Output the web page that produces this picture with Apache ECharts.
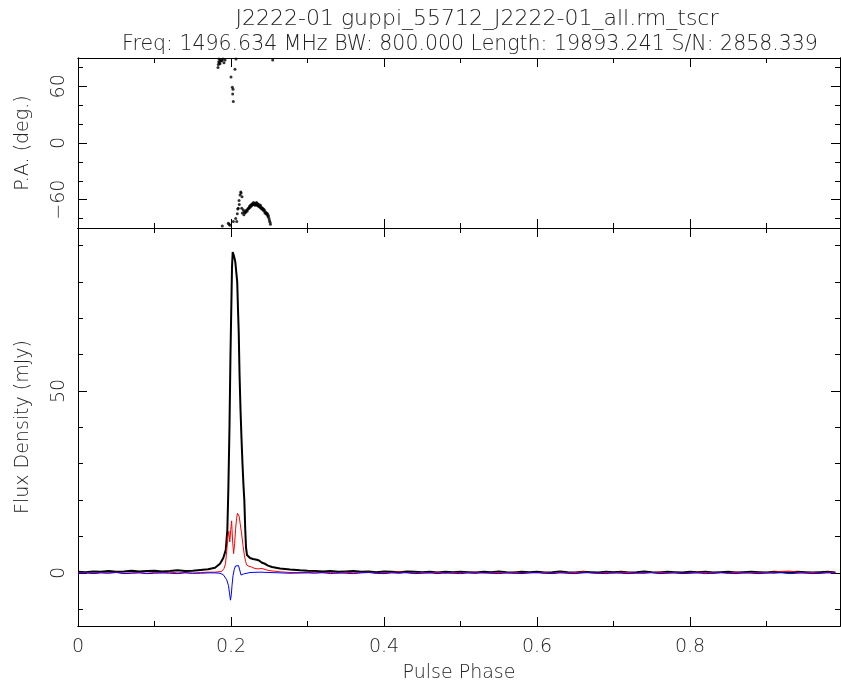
<!DOCTYPE html>
<html><head><meta charset="utf-8">
<script src="https://cdn.jsdelivr.net/npm/echarts@6/dist/echarts.min.js"></script>
<style>html,body{margin:0;padding:0;background:#fff}#c{width:841px;height:682px}</style>
</head><body><div id="c"></div>
<script>
// ---------- text ----------
const titleLine1 = 'J2222-01 guppi_55712_J2222-01_all.rm_tscr';
const titleLine2 = 'Freq: 1496.634 MHz BW: 800.000 Length: 19893.241 S/N: 2858.339';
const xName = 'Pulse Phase';
const paName = 'P.A. (deg.)';
const fluxName = 'Flux Density (mJy)';

// ---------- tick values ----------
const xMajor = [0, 0.2, 0.4, 0.6, 0.8];
const xMinor = [0.1, 0.3, 0.5, 0.7, 0.9];
const paMajor = [-60, 0, 60];
const paMinor = [-80, -40, -20, 20, 40, 80];
const fluxMajor = [0, 50];
const fluxMinor = [-10, 10, 20, 30, 40, 60, 70, 80, 90];

// ---------- off-pulse samples ----------
const offPhaseA = [0.00,0.01,0.02,0.03,0.04,0.05,0.06,0.07,0.08,0.09,0.10,0.11,0.12,0.13,0.14,0.15,0.16,0.17];
const offIA = [0.3,0.2,0.4,0.3,0.5,0.3,0.4,0.6,0.4,0.5,0.6,0.4,0.5,0.7,0.5,0.6,0.8,1.0];
const offLA = [0.0,0.1,-0.1,0.1,0.0,0.2,-0.1,0.0,0.1,-0.1,0.1,0.0,0.2,0.0,0.1,-0.1,0.1,0.2];
const offVA = [-0.1,0.0,-0.2,0.0,-0.1,0.1,-0.2,-0.1,0.0,-0.2,-0.1,0.0,-0.1,-0.2,0.0,-0.1,-0.1,0.0];

const offPhaseB = [0.30,0.31,0.32,0.33,0.34,0.35,0.36,0.37,0.38,0.39,0.40,0.41,0.42,0.43,0.44,0.45,0.46,0.47,0.48,0.49,
  0.50,0.51,0.52,0.53,0.54,0.55,0.56,0.57,0.58,0.59,0.60,0.61,0.62,0.63,0.64,0.65,0.66,0.67,0.68,0.69,
  0.70,0.71,0.72,0.73,0.74,0.75,0.76,0.77,0.78,0.79,0.80,0.81,0.82,0.83,0.84,0.85,0.86,0.87,0.88,0.89,
  0.90,0.91,0.92,0.93,0.94,0.95,0.96,0.97,0.98,0.99];
const offIB = [0.6,0.5,0.4,0.5,0.3,0.4,0.5,0.3,0.4,0.2,0.4,0.3,0.2,0.4,0.3,0.2,0.3,0.1,0.3,0.2,
  0.3,0.2,0.1,0.3,0.2,0.4,0.2,0.1,0.3,0.2,0.3,0.1,0.2,0.4,0.2,0.1,0.3,0.2,0.1,0.3,
  0.2,0.3,0.1,0.2,0.4,0.2,0.1,0.3,0.2,0.1,0.3,0.2,0.3,0.1,0.2,0.3,0.1,0.2,0.3,0.2,
  0.1,0.3,0.2,0.1,0.3,0.2,0.1,0.2,0.3,0.1];
const offLB = [0.1,0.2,0.0,0.1,-0.1,0.2,0.0,0.1,0.2,-0.1,0.0,0.1,0.3,0.0,-0.1,0.1,0.0,0.2,-0.1,0.1,
  0.0,0.1,0.2,-0.1,0.0,0.1,0.0,0.2,-0.1,0.1,0.0,0.1,-0.1,0.2,0.0,0.1,0.3,0.0,-0.1,0.1,
  0.0,0.2,0.1,-0.1,0.0,0.1,0.2,0.0,0.1,-0.1,0.0,0.2,0.1,0.0,0.1,-0.1,0.2,0.0,0.1,0.0,
  0.1,0.2,0.4,0.5,0.2,0.0,0.1,-0.1,0.2,0.1];
const offVB = [0.0,-0.1,0.1,-0.2,0.0,-0.1,-0.2,0.0,0.1,-0.1,-0.2,0.0,-0.1,0.1,-0.2,-0.1,0.0,-0.2,0.0,-0.1,
  -0.2,0.0,-0.1,0.1,-0.1,-0.2,0.0,-0.1,-0.2,0.0,0.1,-0.1,-0.2,0.0,-0.1,-0.2,0.0,0.1,-0.1,-0.2,
  0.0,-0.1,-0.2,0.0,-0.1,0.1,-0.2,-0.1,0.0,-0.2,-0.1,0.0,-0.2,-0.1,0.1,-0.1,-0.2,0.0,-0.1,-0.2,
  0.0,-0.1,0.1,-0.2,-0.1,0.0,-0.2,-0.1,0.0,-0.1];

// ---------- on-pulse samples ----------
const pulseIPhase = [0.1791,0.1856,0.1899,0.1931,0.1952,0.1965,0.1980,0.1993,0.2003,0.2013,0.2022,0.2033,0.2046,0.2056,0.2069,0.2081,0.2092,0.2101,0.2111,0.2124,0.2137,0.2150,0.2163,0.2174,0.2186,0.2196,0.2209,0.2248,0.2288,0.2336,0.2366,0.2405,0.2444,0.2484,0.2536,0.2641,0.2771,0.2902];
const pulseI = [1.4,2.5,4.1,6.3,11.8,22.8,40,60,72,84,88.2,87.5,86.5,85.5,85,80,72,66,55,45,37,30,24,20,12,7,4.9,4.1,3.8,3.6,3.4,2.8,2.5,2.0,1.6,1.2,0.9,0.7];

const pulseLPhase = [0.1791,0.1878,0.1908,0.1928,0.1944,0.1958,0.1971,0.1984,0.1997,0.2008,0.2020,0.2034,0.2047,0.2060,0.2073,0.2085,0.2095,0.2107,0.2120,0.2137,0.2157,0.2174,0.2190,0.2205,0.2235,0.2271,0.2314,0.2353,0.2379,0.2405,0.2431,0.2467,0.2510,0.2641,0.2771];
const pulseL = [0.2,0.4,1.2,2.5,6,9.5,11.5,8.5,12,14.3,9,5.3,8,12,15,16.4,16.6,15.5,13.5,11,7.5,4.9,3.2,2.2,1.8,1.6,1.2,1.1,1.4,1.2,1.3,0.8,0.6,0.3,0.1];

const pulseVPhase = [0.1791,0.1856,0.1899,0.1944,0.1967,0.1980,0.1993,0.2004,0.2013,0.2026,0.2043,0.2059,0.2078,0.2098,0.2114,0.2131,0.2146,0.2163,0.2183,0.2248,0.2379,0.2510,0.2641,0.2771];
const pulseV = [0,-0.1,-0.5,-1.9,-3.5,-5.5,-7.5,-6,-3.5,-0.8,1.0,1.9,2.4,2.0,0.8,-0.6,-1.0,-0.3,0.1,0.1,0.2,0.1,0,-0.1];

// ---------- position angle ----------
const paPhase = [0.1830,0.1834,0.1839,0.1843,0.1850,0.1856,0.1862,0.1869,0.1882,0.1895,0.1908,0.1922,
  0.2000,0.2017,0.2022,0.2026,0.2030,0.2052,0.2065,0.2545,
  0.1886,0.1965,0.1975,0.1987,0.2030,0.2061,0.2075,0.2082,0.2088,0.2095,0.2105,0.2108,0.2118,0.2127,0.2131,0.2140,0.2144,0.2148,
  0.2161,0.2168,0.2174,0.2183,0.2190,0.2196,0.2205,0.2212,0.2222,0.2228,0.2235,0.2242,0.2248,0.2255,0.2261,0.2268,0.2275,0.2281,
  0.2288,0.2294,0.2301,0.2307,0.2314,0.2320,0.2327,0.2333,0.2340,0.2346,0.2353,0.2359,0.2366,0.2372,0.2379,0.2385,0.2392,0.2398,
  0.2405,0.2411,0.2418,0.2424,0.2431,0.2437,0.2444,0.2451,0.2458,0.2464,0.2471,0.2477,0.2484,0.2490,0.2497,0.2503,0.2510,0.2516];
const paValue = [80,83,86,89,85,84,88,87,87,89,85,88,
  70,59,52,57,44,78,89,88,
  -88,-85,-86,-87,-83,-80,-83,-75,-70,-69,-61,-65,-55,-52,-53,-69,-57,-74,
  -71,-76,-73,-74,-72,-73,-71,-72,-70,-69,-69,-67,-68,-66,-67,-65,-66,-64,
  -65,-63,-65,-64,-66,-64,-65,-63,-66,-64,-66,-67,-65,-67,-68,-66,-69,-68,
  -70,-69,-71,-70,-72,-71,-74,-73,-75,-74,-76,-75,-78,-77,-80,-82,-84,-86];

// ---------- build ----------
function pairs(xs, ys) { return xs.map((x, i) => [x, ys[i]]); }
const dataI = pairs(offPhaseA, offIA).concat(pairs(pulseIPhase, pulseI), pairs(offPhaseB, offIB));
const dataL = pairs(offPhaseA, offLA).concat(pairs(pulseLPhase, pulseL), pairs(offPhaseB, offLB));
const dataV = pairs(offPhaseA, offVA).concat(pairs(pulseVPhase, pulseV), pairs(offPhaseB, offVB));
const dataPA = pairs(paPhase, paValue);

const FONT = 'DejaVu Sans';
const X_MIN = 0, X_MAX = 0.996;
const PA_MIN = -90, PA_MAX = 90;
const FL_MIN = -14.6, FL_MAX = 94.8;
const MAJ = 9, MIN = 5;
const lbl = v => String(v).replace('-', '\u2212');

function xAx(grid, pos, ticks, len, showLabel, name) {
  const a = {
    type: 'value', gridIndex: grid, position: pos, min: X_MIN, max: X_MAX,
    axisLine: { show: true, onZero: false, lineStyle: { color: '#000', width: 1 } },
    axisTick: { show: true, inside: true, length: len, customValues: ticks, lineStyle: { color: '#000', width: 1 } },
    axisLabel: { show: showLabel, customValues: ticks, margin: 12, color: '#222', fontFamily: FONT, fontWeight: 300, fontSize: 19, formatter: lbl },
    splitLine: { show: false }
  };
  if (name) {
    a.name = name; a.nameLocation = 'middle'; a.nameGap = 38;
    a.nameTextStyle = { color: '#222', fontFamily: FONT, fontWeight: 300, fontSize: 19 };
  }
  return a;
}
function yAx(grid, pos, mn, mx, ticks, len, showLabel, name) {
  const a = {
    type: 'value', gridIndex: grid, position: pos, min: mn, max: mx,
    axisLine: { show: true, onZero: false, lineStyle: { color: '#000', width: 1 } },
    axisTick: { show: true, inside: true, length: len, customValues: ticks, lineStyle: { color: '#000', width: 1 } },
    axisLabel: { show: showLabel, customValues: ticks, rotate: 90, margin: 9, color: '#222', fontFamily: FONT, fontWeight: 300, fontSize: 19, formatter: lbl },
    splitLine: { show: false }
  };
  if (name) {
    a.name = name; a.nameLocation = 'middle'; a.nameGap = 45; a.nameRotate = 90;
    a.nameTextStyle = { color: '#222', fontFamily: FONT, fontWeight: 300, fontSize: 19 };
  }
  return a;
}

const xAxes = [
  xAx(1, 'bottom', xMajor, MAJ, true, xName), // 0: main x of flux grid
  xAx(1, 'bottom', xMinor, MIN, false),
  xAx(1, 'top', xMajor, MAJ, false),
  xAx(1, 'top', xMinor, MIN, false),
  xAx(0, 'bottom', xMajor, MAJ, false),       // 4: main x of PA grid
  xAx(0, 'bottom', xMinor, MIN, false),
  xAx(0, 'top', xMajor, MAJ, false),
  xAx(0, 'top', xMinor, MIN, false)
];
const yAxes = [
  yAx(1, 'left', FL_MIN, FL_MAX, fluxMajor, MAJ, true, fluxName), // 0
  yAx(1, 'left', FL_MIN, FL_MAX, fluxMinor, MIN, false),
  yAx(1, 'right', FL_MIN, FL_MAX, fluxMajor, MAJ, false),
  yAx(1, 'right', FL_MIN, FL_MAX, fluxMinor, MIN, false),
  yAx(0, 'left', PA_MIN, PA_MAX, paMajor, MAJ, true, paName),      // 4
  yAx(0, 'left', PA_MIN, PA_MAX, paMinor, MIN, false),
  yAx(0, 'right', PA_MIN, PA_MAX, paMajor, MAJ, false),
  yAx(0, 'right', PA_MIN, PA_MAX, paMinor, MIN, false)
];

const chart = echarts.init(document.getElementById('c'), null, { renderer: 'canvas' });
chart.setOption({
  animation: false,
  backgroundColor: '#fff',
  title: [
    { text: titleLine1, left: 472, top: 3, textAlign: 'center',
      textStyle: { fontFamily: FONT, fontSize: 22, fontWeight: 300, color: '#222' } },
    { text: titleLine2, left: 465, top: 29, textAlign: 'center',
      textStyle: { fontFamily: FONT, fontSize: 20.5, fontWeight: 300, color: '#222' } }
  ],
  grid: [
    { left: 78, top: 58, right: 1, height: 170, containLabel: false, outerBoundsMode: 'none' },
    { left: 78, top: 228, right: 1, height: 398, containLabel: false, outerBoundsMode: 'none' }
  ],
  xAxis: xAxes,
  yAxis: yAxes,
  series: [
    { type: 'line', name: 'I', xAxisIndex: 0, yAxisIndex: 0, data: dataI, showSymbol: false,
      lineStyle: { color: '#000', width: 2 }, z: 2 },
    { type: 'line', name: 'L', xAxisIndex: 0, yAxisIndex: 0, data: dataL, showSymbol: false,
      lineStyle: { color: '#ff0000', width: 1 }, z: 3 },
    { type: 'line', name: 'V', xAxisIndex: 0, yAxisIndex: 0, data: dataV, showSymbol: false,
      lineStyle: { color: '#0000ff', width: 1 }, z: 4 },
    { type: 'scatter', name: 'PA', xAxisIndex: 4, yAxisIndex: 4, data: dataPA,
      symbol: 'circle', symbolSize: 3, itemStyle: { color: '#000' } }
  ]
});
</script>
</body></html>
